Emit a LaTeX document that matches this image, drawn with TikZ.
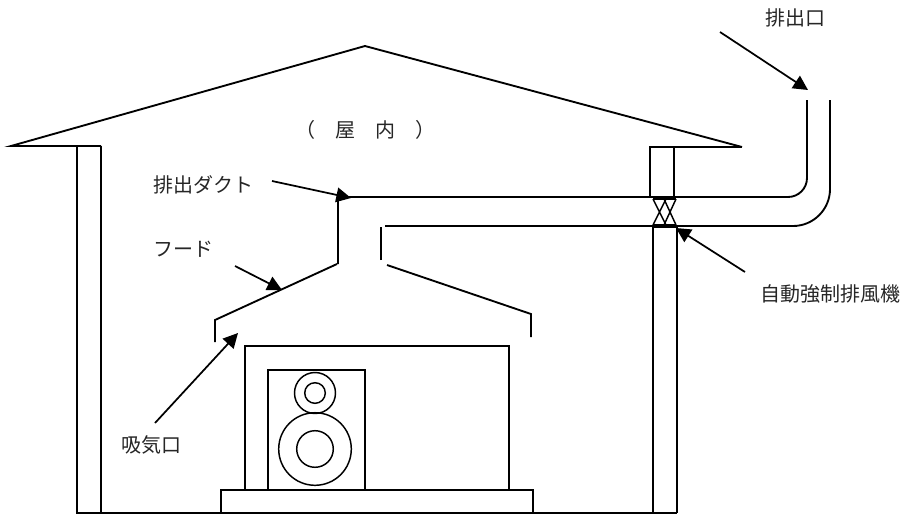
\documentclass[tikz,border=0pt]{standalone}
\usepackage{fontspec}
\newfontfamily\jpfont{Noto Sans CJK JP}
\usetikzlibrary{arrows.meta}
\begin{document}
\begin{tikzpicture}[x=0.75pt,y=-0.75pt,
  wall/.style={line width=1.4pt,line join=miter},
  thin/.style={line width=1.1pt},
  pointer/.style={line width=1.3pt,-{Triangle[length=11pt,width=11pt]}},
  label/.style={font=\jpfont\fontsize{15pt}{17pt}\selectfont,inner sep=0pt,text=black!85}]
\useasboundingbox (0,0) rectangle (910,515);

% roof
\draw[wall] (742,147) -- (365,46) -- (11,146) -- (101,146);
\draw[wall] (674,147) -- (742,147);

% left wall
\draw[wall] (77,146) -- (77,513) -- (677,513);
\draw[wall] (101,146) -- (101,513);

% right wall, upper and lower parts
\draw[wall] (650,197) -- (650,147) -- (674,147) -- (674,197);
\draw[wall] (653,513) -- (653,227) -- (677,227) -- (677,513);

% fan in the duct
\draw[thin] (653,199) -- (676,199);
\draw[thin] (653,225) -- (676,225);
\draw[thin] (653,199) -- (666,225) (666,199) -- (653,225);
\draw[thin] (664,199) -- (676,225) (676,199) -- (664,225);

% duct, upper and lower lines with bend to the outlet
\draw[wall] (338,264) -- (338,197) -- (788,197) arc[start angle=90,end angle=0,radius=19] -- (807,100);
\draw[wall] (381,260) -- (381,227);
\draw[wall] (385,226) -- (793,226) arc[start angle=90,end angle=0,radius=37] -- (830,100);

% hood
\draw[wall] (215,342) -- (215,320) -- (337,264);
\draw[wall] (387,265) -- (531,314) -- (531,337);

% unit on its base
\draw[wall] (221,513) -- (221,490) -- (533,490) -- (533,513);
\draw[wall] (245,490) -- (245,346) -- (509,346) -- (509,490);
\draw[wall] (268,490) -- (268,370) -- (365,370) -- (365,490);
\draw[thin] (315,393) circle[radius=20.5];
\draw[thin] (315,393) circle[radius=10.3];
\draw[thin] (315,449) circle[radius=36.3];
\draw[thin] (315,449) circle[radius=18.3];

% labels
\node[label] (room) at (365,130) {（\quad 屋\quad 内\quad ）};
\node[label] (outlet) at (795,18) {排出口};
\node[label] (duct) at (203,185) {排出ダクト};
\node[label] (hood) at (183,249) {フード};
\node[label] (intake) at (151,445) {吸気口};
\node[label] (fan) at (830,294) {自動強制排風機};

% pointer arrows
\coordinate (outletA) at (720,32);  \coordinate (outletB) at (808,90);
\coordinate (ductA) at (272,181);   \coordinate (ductB) at (351,198);
\coordinate (hoodA) at (235,266);   \coordinate (hoodB) at (282,290);
\coordinate (intakeA) at (155,423); \coordinate (intakeB) at (238,333);
\coordinate (fanA) at (745,272);    \coordinate (fanB) at (676,228);
\draw[pointer] (outletA) -- (outletB);
\draw[pointer] (ductA) -- (ductB);
\draw[pointer] (hoodA) -- (hoodB);
\draw[pointer] (intakeA) -- (intakeB);
\draw[pointer] (fanA) -- (fanB);
\end{tikzpicture}
\end{document}
